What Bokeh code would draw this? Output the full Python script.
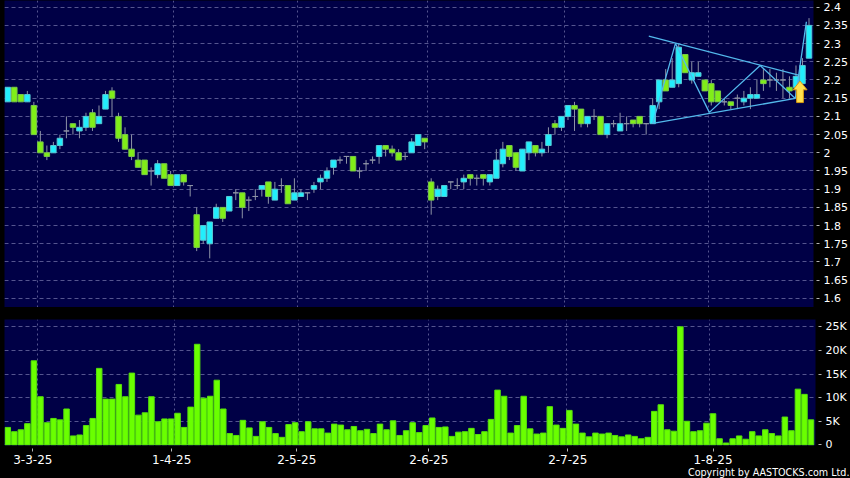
from bokeh.plotting import figure
from bokeh.layouts import column
from bokeh.models import FixedTicker, Range1d, Title, ColumnDataSource
from bokeh.embed import file_html
from bokeh.resources import INLINE

# body start / body end / high / low, one per session (thousands for volume)
opens = [2.14,2.18,2.16,2.14,2.13,2.03,2.00,2.00,2.02,2.06,2.08,2.06,2.07,2.11,2.08,2.12,2.17,2.10,2.05,2.01,1.98,1.98,1.95,1.94,1.97,1.94,1.91,1.94,1.91,1.83,1.76,1.75,
         1.82,1.85,1.84,1.89,1.89,1.87,1.88,1.90,1.92,1.87,1.91,1.91,1.87,1.88,1.89,1.90,1.92,1.93,1.96,1.98,1.99,1.99,1.95,1.97,1.98,1.99,2.02,2.01,2.00,1.99,2.00,2.02,2.04,
         1.92,1.88,1.88,1.92,1.91,1.92,1.94,1.93,1.94,1.92,1.93,1.97,2.02,2.00,1.95,2.00,2.02,2.00,2.02,2.08,2.07,2.10,2.13,2.12,2.08,2.10,2.10,2.05,2.08,2.06,2.08,2.09,
         2.10,2.08,2.08,2.14,2.20,2.18,2.19,2.27,2.20,2.21,2.20,2.19,2.17,2.14,2.14,2.15,2.14,2.15,2.15,2.20,2.20,2.20,2.20,2.18,2.18,2.19,2.26]
closes = [2.18,2.14,2.14,2.16,2.05,2.00,1.99,2.02,2.04,2.06,2.07,2.07,2.10,2.07,2.10,2.16,2.15,2.04,2.01,1.99,1.96,1.94,1.95,1.97,1.93,1.91,1.94,1.92,1.91,1.74,1.80,1.81,
          1.85,1.82,1.88,1.89,1.85,1.87,1.88,1.91,1.88,1.90,1.91,1.86,1.89,1.89,1.89,1.91,1.93,1.95,1.98,1.98,1.99,1.95,1.95,1.97,1.98,2.02,2.01,2.00,1.98,1.99,2.03,2.05,2.03,
          1.87,1.90,1.91,1.92,1.91,1.93,1.93,1.93,1.93,1.94,1.98,2.01,1.99,1.96,2.01,2.03,2.00,2.01,2.05,2.07,2.10,2.13,2.12,2.08,2.10,2.10,2.05,2.08,2.08,2.08,2.08,2.08,
          2.08,2.08,2.13,2.20,2.17,2.20,2.29,2.22,2.22,2.22,2.17,2.14,2.14,2.14,2.13,2.15,2.15,2.16,2.16,2.19,2.20,2.20,2.20,2.17,2.21,2.24,2.35]
highs = [2.18,2.18,2.16,2.17,2.14,2.06,2.02,2.03,2.05,2.10,2.08,2.09,2.11,2.12,2.13,2.17,2.18,2.11,2.07,2.05,2.00,1.98,1.96,1.98,1.97,1.95,1.94,1.94,1.91,1.85,1.80,1.81,
         1.86,1.85,1.88,1.90,1.89,1.88,1.90,1.91,1.92,1.92,1.93,1.91,1.93,1.90,1.89,1.92,1.94,1.96,1.98,1.99,1.99,1.99,1.96,1.98,1.99,2.02,2.02,2.02,2.01,2.00,2.04,2.05,2.04,
         1.93,1.91,1.91,1.92,1.93,1.94,1.94,1.94,1.94,1.94,2.01,2.03,2.02,2.00,2.01,2.03,2.02,2.03,2.07,2.09,2.10,2.13,2.14,2.12,2.10,2.12,2.10,2.08,2.09,2.11,2.10,2.09,
         2.10,2.08,2.15,2.20,2.23,2.26,2.30,2.27,2.25,2.25,2.20,2.20,2.17,2.15,2.14,2.16,2.17,2.18,2.20,2.23,2.23,2.22,2.23,2.21,2.24,2.26,2.37]
lows = [2.14,2.14,2.14,2.14,2.05,2.00,1.98,2.00,2.01,2.04,2.05,2.04,2.06,2.06,2.08,2.12,2.10,2.03,2.01,1.98,1.96,1.94,1.91,1.93,1.93,1.91,1.91,1.91,1.88,1.73,1.75,1.71,
        1.82,1.81,1.84,1.87,1.82,1.84,1.87,1.88,1.86,1.87,1.89,1.86,1.87,1.88,1.87,1.89,1.90,1.92,1.94,1.97,1.97,1.95,1.93,1.95,1.97,1.97,1.99,1.99,1.98,1.98,2.00,2.02,2.01,
        1.83,1.87,1.88,1.90,1.90,1.90,1.91,1.91,1.91,1.91,1.93,1.96,1.98,1.95,1.95,1.98,1.99,1.99,2.00,2.05,2.06,2.09,2.06,2.07,2.07,2.09,2.05,2.04,2.07,2.06,2.06,2.07,
        2.07,2.05,2.08,2.12,2.17,2.18,2.18,2.22,2.19,2.21,2.17,2.13,2.14,2.13,2.12,2.12,2.13,2.12,2.15,2.17,2.18,2.17,2.15,2.15,2.15,2.15,2.26]
volumes = [3.7,2.8,3.2,4.5,17.8,10.2,4.7,5.6,5.3,7.6,1.9,2.1,4.1,5.6,16.2,9.7,9.7,12.8,10.2,15.2,6.3,6.8,10.2,4.9,5.5,5.5,6.7,3.7,8.0,21.3,9.9,10.3,13.7,7.6,2.4,2.0,5.2,3.6,1.8,4.9,3.7,2.4,
           1.6,4.3,4.7,2.8,4.9,3.4,3.4,2.5,4.4,4.2,3.2,3.9,3.0,3.3,2.4,4.4,3.2,5.1,2.0,3.0,4.7,2.6,4.1,5.7,3.7,3.8,1.8,2.7,2.8,3.5,2.2,2.8,5.4,11.6,10.3,2.5,4.1,10.3,3.4,2.3,2.5,8.1,4.2,
           3.5,7.3,4.4,2.5,1.7,2.5,2.3,2.5,2.0,1.7,2.1,1.8,1.3,1.6,7.1,8.5,3.2,2.9,25.0,5.0,2.8,3.0,4.6,6.6,1.3,0.4,1.3,1.9,1.2,2.8,1.9,3.2,2.4,1.9,5.9,3.0,11.8,10.7,5.3]

price_ticks = [1.6,1.65,1.7,1.75,1.8,1.85,1.9,1.95,2.0,2.05,2.1,2.15,2.2,2.25,2.3,2.35,2.4]
price_labels = ["1.6","1.65","1.7","1.75","1.8","1.85","1.9","1.95","2","2.05","2.1","2.15","2.2","2.25","2.3","2.35","2.4"]
vol_ticks = [0,5,10,15,20,25]
vol_labels = ["0","5K","10K","15K","20K","25K"]
date_ticks = [3.83,25.1,44.25,64.47,85.75,108.0]
date_labels = ["3-3-25","1-4-25","2-5-25","2-6-25","2-7-25","1-8-25"]
month_grid = [4.5,25.5,44.5,64.5,85.5,107.5]

pattern_upper_x = [98.4,121.4]
pattern_upper_y = [2.3207,2.2135]
pattern_lower_x = [99.0,120.9]
pattern_lower_y = [2.0807,2.1494]
pattern_zig_x = [99.0,102.5,107.7,115.5,120.9,122.6]
pattern_zig_y = [2.0807,2.3005,2.111,2.240,2.1494,2.36]
arrow_x = [121.62,120.55,121.1,121.1,122.14,122.14,122.7]
arrow_y = [2.197,2.173,2.173,2.138,2.138,2.173,2.173]

NAVY = "#000046"
GRID = "#55558f"
WICK = "#8d93a6"
CYAN = "#22eefc"
GREEN = "#80ee18"
VOL = "#6aff00"
LINE = "#53b9ec"
X0, X1 = -0.505, 123.69

n = len(opens)
idx = list(range(n))
body_top = [max(a, b) for a, b in zip(opens, closes)]
body_bot = [min(a, b) for a, b in zip(opens, closes)]
fills = [CYAN if c > o else GREEN if c < o else WICK for o, c in zip(opens, closes)]
lines = ["#58c8d4" if c > o else "#78c848" if c < o else WICK for o, c in zip(opens, closes)]
src = ColumnDataSource(dict(x=idx, top=body_top, bottom=body_bot, hi=highs, lo=lows, fill=fills, line=lines))


def style(p, ticks, labels):
    p.background_fill_color = NAVY
    p.border_fill_color = "#000000"
    p.outline_line_color = None
    p.xgrid.ticker = FixedTicker(ticks=month_grid)
    p.ygrid.ticker = FixedTicker(ticks=ticks)
    for g in (p.xgrid, p.ygrid):
        g.grid_line_color = GRID
        g.grid_line_width = 1
    p.xgrid.grid_line_dash = "2 3"
    p.ygrid.grid_line_dash = "4 3"
    ax = p.yaxis[0]
    ax.ticker = FixedTicker(ticks=ticks)
    ax.major_label_overrides = dict(zip(ticks, labels))
    ax.axis_line_color = None
    ax.minor_tick_line_color = None
    ax.major_tick_line_color = "#b4b4b4"
    ax.major_tick_in = -3
    ax.major_tick_out = 6
    ax.major_label_standoff = 4
    ax.major_label_text_color = "#ffffff"
    ax.major_label_text_font = "DejaVu Sans"
    ax.major_label_text_font_size = "11px"


top = figure(frame_width=811, frame_height=307, output_backend="svg", toolbar_location=None,
             x_range=Range1d(X0, X1), y_range=Range1d(1.575, 2.4184),
             x_axis_location=None, y_axis_location="right",
             min_border_left=4, min_border_right=35, min_border_top=0, min_border_bottom=0)
style(top, price_ticks, price_labels)
top.segment("x", "hi", "x", "lo", source=src, line_color=WICK, line_width=1)
top.vbar("x", width=0.84, top="top", bottom="bottom", source=src, fill_color="fill", line_color="line", line_width=1)
top.line(pattern_upper_x, pattern_upper_y, line_color=LINE, line_width=1.3)
top.line(pattern_lower_x, pattern_lower_y, line_color=LINE, line_width=1.3)
top.line(pattern_zig_x, pattern_zig_y, line_color=LINE, line_width=1.3)
top.patch(arrow_x, arrow_y, fill_color="#ffe14d", line_color="#d89a10", line_width=1)

bot = figure(frame_width=811, frame_height=126, output_backend="svg", toolbar_location=None,
             x_range=top.x_range, y_range=Range1d(-0.127, 26.55),
             y_axis_location="right",
             min_border_left=4, min_border_right=35, min_border_top=11, min_border_bottom=33)
style(bot, vol_ticks, vol_labels)
bot.vbar(idx, width=0.84, top=volumes, bottom=0, fill_color=VOL, line_color="#55e00a", line_width=1)
xa = bot.xaxis[0]
xa.ticker = FixedTicker(ticks=date_ticks)
xa.major_label_overrides = dict(zip(date_ticks, date_labels))
xa.axis_line_color = None
xa.minor_tick_line_color = None
xa.major_tick_line_color = "#b4b4b4"
xa.major_tick_in = -3
xa.major_tick_out = 6
xa.major_label_standoff = 3
xa.major_label_text_color = "#ffffff"
xa.major_label_text_font = "DejaVu Sans"
xa.major_label_text_font_size = "12px"
bot.add_layout(Title(text="Copyright by AASTOCKS.com Ltd.", align="right", offset=-34, standoff=-4,
                     text_color="#ffffff", text_font="DejaVu Sans", text_font_size="9.6px",
                     text_font_style="normal"), "below")

page = column(top, bot, spacing=0)
page.styles = {"position": "absolute", "left": "0px", "top": "0px", "width": "850px", "height": "478px",
               "overflow": "hidden", "background-color": "#000000"}
open("out.html", "w").write(file_html(page, INLINE))
